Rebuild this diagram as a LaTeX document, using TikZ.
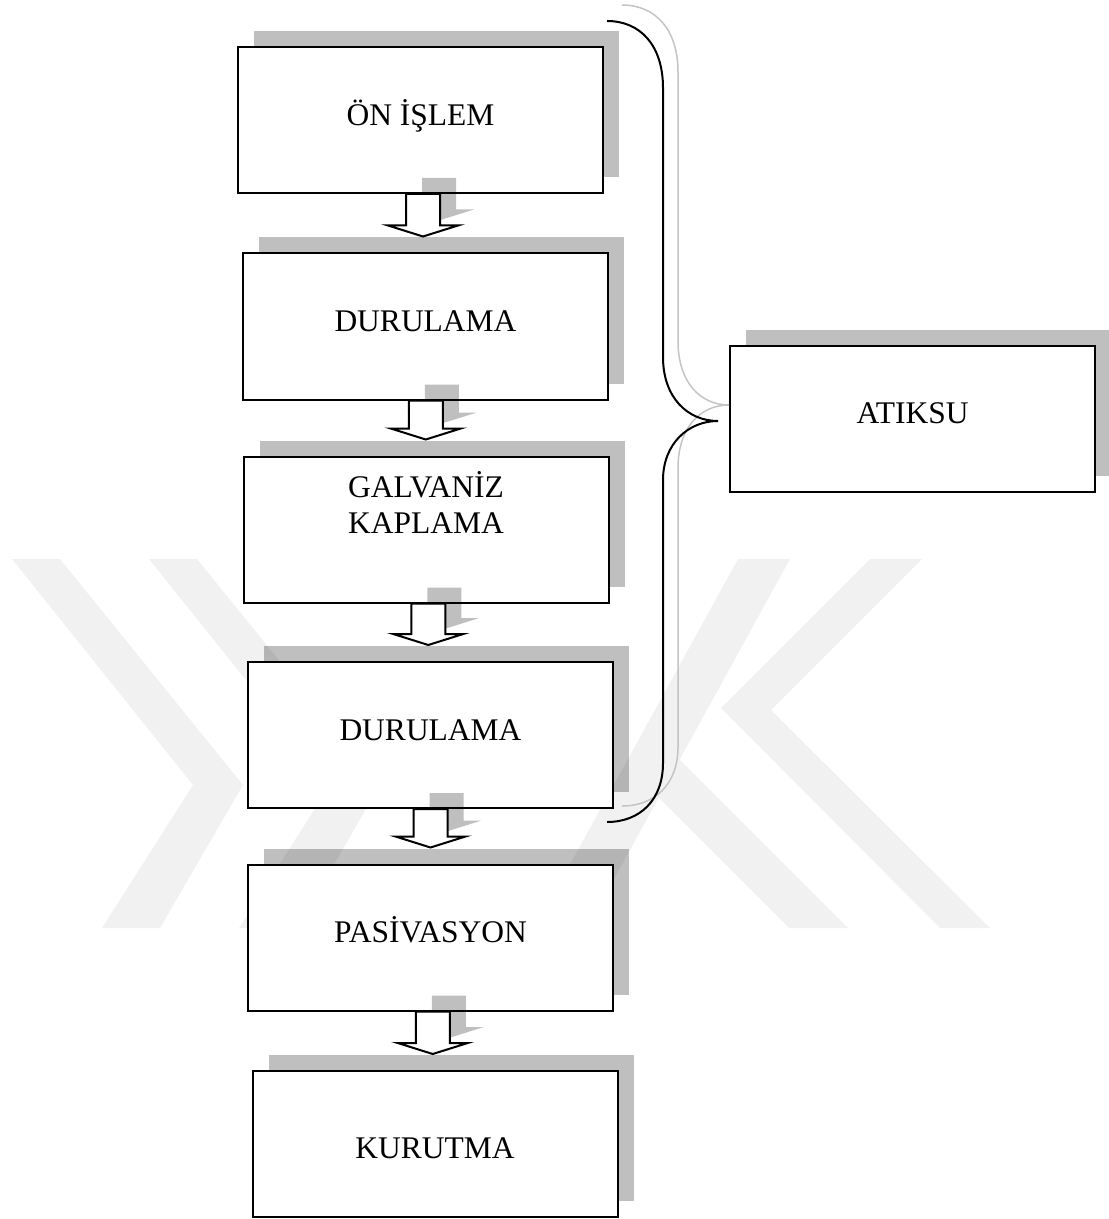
\documentclass[tikz,border=0pt]{standalone}
\usepackage{fontspec}
\setmainfont{Liberation Serif}
\usetikzlibrary{calc,shadows}
\definecolor{wm}{HTML}{F1F1F1}
\definecolor{brgray}{HTML}{C4C4C4}
\tikzset{
  pbox/.style={draw=black, line width=1pt, fill=white, minimum width=182.5pt,
    minimum height=73pt, inner sep=0pt,
    general shadow={fill=black, fill opacity=0.25, shadow xshift=8pt, shadow yshift=8pt}},
  ptext/.style={font=\fontsize{15.75}{18}\selectfont, anchor=base, inner sep=0pt},
  ashadow/.style={fill=black, fill opacity=0.25},
  abody/.style={draw=black, line width=1pt, fill=white, line join=miter},
  wmark/.style={fill=wm},
  bracemain/.style={draw=black, line width=1pt},
  braceshade/.style={draw=brgray, line width=0.75pt}
}
\newcommand\flowarrow[3]{%
  \coordinate (#3m) at ($(#1.south)!0.5!(#2.north)$);
  \coordinate (#3s) at (#3m |- #1.south);
  \coordinate (#3e) at ($(#3m |- #2.north)+(0,-16)$);
  \fill[ashadow] ($(#3s)+(-1,-16)$) -- ($(#3s)+(33,-16)$) -- ($(#3e)+(33,-27)$) --
    ($(#3e)+(51,-27)$) -- ($(#3e)+(16,-16)$) -- ($(#3e)+(-19,-27)$) -- ($(#3e)+(-1,-27)$) -- cycle;
  \draw[abody] ($(#3s)+(-17,0)$) -- ($(#3s)+(17,0)$) -- ($(#3e)+(17,-11)$) --
    ($(#3e)+(35,-11)$) -- (#3e) -- ($(#3e)+(-35,-11)$) -- ($(#3e)+(-17,-11)$) -- cycle;
}
\begin{document}
\begin{tikzpicture}[x=0.5pt,y=-0.5pt]
\useasboundingbox (0,0) rectangle (1108,1219);
% faint watermark
\fill[wmark] (12,559) -- (60,559) -- (243,785) -- (160,928) -- (102,928) -- (193,785) -- cycle;
\fill[wmark] (149,559) -- (197,559) -- (380,785) -- (297,928) -- (239,928) -- (330,785) -- cycle;
\fill[wmark] (738,559) -- (790,559) -- (587,928) -- (535,928) -- cycle;
\fill[wmark] (679,759) -- (848,928) -- (789,928) -- (658,797) -- cycle;
\fill[wmark] (870,559) -- (922,559) -- (771,710) -- (990,928) -- (940,928) -- (721,708) -- cycle;
% process boxes
\node[pbox] (b1) at (420.5,120) {};
\node[ptext] (t1) at (420.5,126) {ÖN İŞLEM};
\node[pbox] (b2) at (425.5,326.5) {};
\node[ptext] (t2) at (425.5,332) {DURULAMA};
\flowarrow{b1}{b2}{a1}
\node[pbox] (b3) at (426,529.5) {};
\node[ptext] (t3a) at (426,497) {GALVANİZ};
\node[ptext] (t3b) at (426,533) {KAPLAMA};
\flowarrow{b2}{b3}{a2}
\node[pbox] (b4) at (430.5,735) {};
\node[ptext] (t4) at (430.5,740) {DURULAMA};
\flowarrow{b3}{b4}{a3}
\node[pbox] (b5) at (430.5,937.5) {};
\node[ptext] (t5) at (430.5,942) {PASİVASYON};
\flowarrow{b4}{b5}{a4}
\node[pbox] (b6) at (435,1144) {};
\node[ptext] (t6) at (435,1158) {KURUTMA};
\flowarrow{b5}{b6}{a5}
% waste water box
\node[pbox] (atk) at (912.5,419) {};
\node[ptext] (t7) at (912.5,423) {ATIKSU};
% braces
\draw[braceshade] (622,5) .. controls (655,5) and (678,29) .. (678,72) -- (678,341)
  .. controls (678,382) and (700,405) .. (atk.west |- 0,405)
  .. controls (700,405) and (678,428) .. (678,468) -- (678,747)
  .. controls (678,784) and (655,806) .. (622,806);
\draw[bracemain] (607,21) .. controls (640,21) and (663,45) .. (663,88) -- (663,357)
  .. controls (663,398) and (688,421) .. (718,421)
  .. controls (688,421) and (663,444) .. (663,480) -- (663,763)
  .. controls (663,800) and (640,822) .. (607,822);
\end{tikzpicture}
\end{document}
